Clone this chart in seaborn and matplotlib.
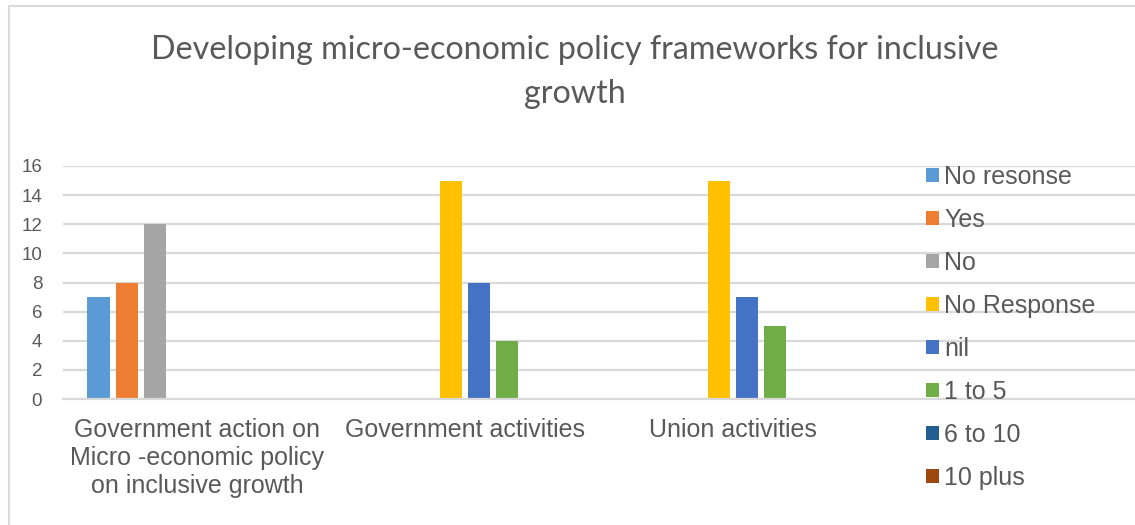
import matplotlib
matplotlib.use("Agg")
import matplotlib.pyplot as plt
from matplotlib.patches import Patch, Rectangle
import pandas as pd
import seaborn as sns

# Survey responses per question
categories = [
    "Government action on\nMicro -economic policy\non inclusive growth",
    "Government activities",
    "Union activities",
]
series = ["No resonse", "Yes", "No", "No Response", "nil", "1 to 5", "6 to 10", "10 plus"]
colors = ["#5B9BD5", "#ED7D31", "#A5A5A5", "#FFC000", "#4472C4", "#70AD47", "#255E91", "#9E480E"]

action_series = ["No resonse", "Yes", "No"]
action_values = [7, 8, 12]
gov_series = ["No Response", "nil", "1 to 5"]
gov_values = [15, 8, 4]
union_series = ["No Response", "nil", "1 to 5"]
union_values = [15, 7, 5]

rows = []
for cat, names, vals in zip(categories,
                            [action_series, gov_series, union_series],
                            [action_values, gov_values, union_values]):
    for n, v in zip(names, vals):
        rows.append({"category": cat, "series": n, "value": v})
df = pd.DataFrame(rows)

sns.set_style("white")
plt.rcParams["font.family"] = ["Liberation Sans", "DejaVu Sans"]

W, H = 1135, 525
fig = plt.figure(figsize=(W / 100, H / 100), dpi=100)
ax = fig.add_axes([63 / W, 1 - 399 / H, 1 - 63 / W, (399 - 166) / H])

sns.barplot(data=df, x="category", y="value", hue="series",
            order=categories, hue_order=series, palette=colors,
            saturation=1, width=0.836, gap=0.18, dodge=True, legend=False,
            edgecolor="none", linewidth=0, errorbar=None, ax=ax)

grey_text = "#595959"
grid_col = "#D9D9D9"
ax.set_xlim(-0.5, 3.5)
ax.set_ylim(0, 16)
ax.set_yticks(range(0, 17, 2))
ax.yaxis.grid(True, color=grid_col, linewidth=1.6)
ax.set_axisbelow(True)
for side in ["top", "right", "left"]:
    ax.spines[side].set_visible(False)
ax.spines["bottom"].set_color(grid_col)
ax.spines["bottom"].set_linewidth(1.6)
ax.tick_params(axis="both", length=0)
ax.tick_params(axis="y", pad=15, labelsize=13.5, labelcolor=grey_text)
ax.tick_params(axis="x", pad=14, labelsize=18, labelcolor=grey_text)
for lab in ax.get_xticklabels():
    lab.set_linespacing(1.2)
ax.set_xlabel("")
ax.set_ylabel("")

handles = [Patch(facecolor=c, edgecolor="none", label=s) for s, c in zip(series, colors)]
fig.legend(handles=handles, loc="upper left",
           bbox_to_anchor=(926 / W, 1 - 165 / H),
           frameon=False, fontsize=18, labelcolor=grey_text,
           handlelength=0.52, handleheight=0.52, handletextpad=0.22,
           labelspacing=0.76, borderpad=0, borderaxespad=0)

fig.text(575 / W, 1 - 72 / H,
         "Developing micro-economic policy frameworks for inclusive\ngrowth",
         ha="center", va="center", fontsize=23.2, color=grey_text,
         family=["Lato", "DejaVu Sans"], linespacing=1.55)

# outer chart frame
fig.patches.append(Rectangle((9 / W, -0.1), 1.2, 1 - 6 / H + 0.1,
                             transform=fig.transFigure, fill=False,
                             edgecolor=grid_col, linewidth=1.5, zorder=-1))

fig.savefig("out.png", dpi=100)
